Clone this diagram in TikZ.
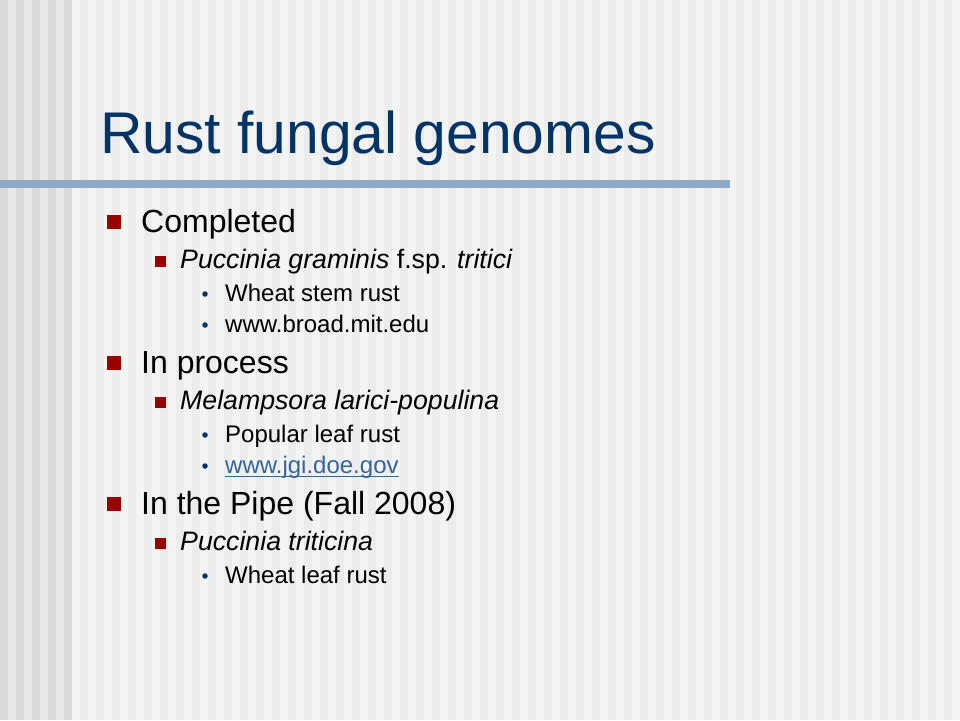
\documentclass[tikz,border=0pt]{standalone}
\usepackage{fontspec}
\setmainfont{Liberation Sans}
\definecolor{bgR}{HTML}{F4F4F4}
\definecolor{bgRd}{HTML}{ECECEC}
\definecolor{bgL}{HTML}{E7E7E7}
\definecolor{bgLd}{HTML}{DADADA}
\definecolor{rulecol}{RGB}{142,168,198}
\definecolor{titleblue}{RGB}{0,51,102}
\definecolor{bulletred}{RGB}{153,0,0}
\definecolor{linkblue}{RGB}{51,102,153}
\begin{document}
\begin{tikzpicture}[x=1pt,y=-1pt,
  txt/.style={anchor=base west, inner sep=0pt, text=black},
  lone/.style={txt, font=\fontsize{32}{38}\selectfont},
  ltwo/.style={txt, font=\fontsize{26.7}{32}\selectfont\itshape},
  lthree/.style={txt, font=\fontsize{24}{29}\selectfont},
  sqone/.style={fill=bulletred, inner sep=0pt, minimum size=14pt, draw=none},
  sqtwo/.style={fill=bulletred, inner sep=0pt, minimum size=11pt, draw=none},
  dotb/.style={circle, fill=titleblue, inner sep=0pt, minimum size=5.5pt, draw=none}]
% background stripes
\fill[bgR] (0,0) rectangle (960,720);
\fill[bgL] (0,0) rectangle (72,720);
\foreach \k in {0,...,4} \fill[bgLd] (16*\k,0) rectangle (16*\k+8,720);
\foreach \k in {5,...,59} \fill[bgRd] (16*\k,0) rectangle (16*\k+8,720);
\useasboundingbox (0,0) rectangle (960,720);
% title and rule
\node[anchor=base west, inner sep=0pt, text=titleblue, font=\fontsize{58.8}{70}\selectfont] (title) at (100,153) {Rust fungal genomes};
\fill[rulecol] (0,180) rectangle (730,188);
% group 1
\node[sqone] (b1) at (114,222) {};
\node[lone] (t1) at (141,232) {Completed};
\node[sqtwo] (b2) at (160.5,261) {};
\node[ltwo] (t2) at (180,268) {Puccinia graminis \upshape f.sp. \itshape tritici};
\node[dotb] (b3) at (205,294) {};
\node[lthree] (t3) at (225,301) {Wheat stem rust};
\node[dotb] (b4) at (205,325) {};
\node[lthree] (t4) at (225,332) {www.broad.mit.edu};
% group 2
\node[sqone] (b5) at (114,363) {};
\node[lone] (t5) at (141,373) {In process};
\node[sqtwo] (b6) at (160.5,402) {};
\node[ltwo] (t6) at (180,409) {Melampsora larici-populina};
\node[dotb] (b7) at (205,435) {};
\node[lthree] (t7) at (225,442) {Popular leaf rust};
\node[dotb] (b8) at (205,466) {};
\node[lthree, text=linkblue] (t8) at (225,473) {www.jgi.doe.gov};
\draw[linkblue, line width=1.3pt] ([yshift=-3.5pt]t8.base west) -- ([yshift=-3.5pt]t8.base east);
% group 3
\node[sqone] (b9) at (114,504) {};
\node[lone] (t9) at (141,514) {In the Pipe (Fall 2008)};
\node[sqtwo] (b10) at (160.5,543) {};
\node[ltwo] (t10) at (180,550) {Puccinia triticina};
\node[dotb] (b11) at (205,576) {};
\node[lthree] (t11) at (225,583) {Wheat leaf rust};
\end{tikzpicture}
\end{document}
